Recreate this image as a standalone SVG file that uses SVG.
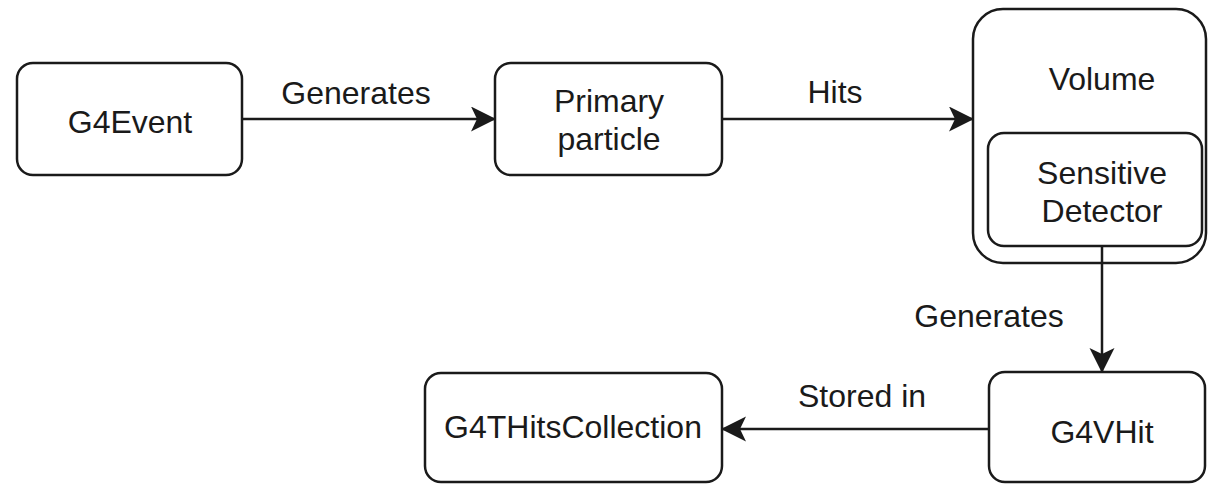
<svg xmlns="http://www.w3.org/2000/svg" width="1209" height="485" viewBox="0 0 1209 485">
  <style>
    .box { fill: #ffffff; stroke: #1a1a1a; stroke-width: 2.5; }
    .lbl { font-family: "Liberation Sans", Arial, Helvetica, sans-serif; font-size: 32px; fill: #1a1a1a; text-anchor: middle; }
    .edge { stroke: #1a1a1a; stroke-width: 2.5; fill: none; marker-end: url(#arrow); }
  </style>
  <defs>
    <marker id="arrow" markerUnits="userSpaceOnUse" markerWidth="26" markerHeight="26" refX="24" refY="12.5" orient="auto">
      <path d="M0,0 L25,12.5 L0,25 L6,12.5 Z" fill="#1a1a1a"/>
    </marker>
  </defs>
  <rect width="1209" height="485" fill="#ffffff"/>

  <g id="g4event">
    <rect class="box" x="17" y="63" width="225" height="112" rx="16"/>
    <text class="lbl" x="130" y="133">G4Event</text>
  </g>

  <g id="primary-particle">
    <rect class="box" x="495" y="63" width="227" height="112" rx="16"/>
    <text class="lbl" x="609" y="112">Primary</text>
    <text class="lbl" x="609" y="150">particle</text>
  </g>

  <g id="volume">
    <rect class="box" x="973" y="9" width="233" height="254" rx="30"/>
    <text class="lbl" x="1102" y="90">Volume</text>
  </g>

  <g id="sensitive-detector">
    <rect class="box" x="988" y="133" width="214" height="113" rx="16"/>
    <text class="lbl" x="1102" y="184">Sensitive</text>
    <text class="lbl" x="1102" y="222">Detector</text>
  </g>

  <g id="g4vhit">
    <rect class="box" x="989" y="372" width="216" height="110" rx="16"/>
    <text class="lbl" x="1102" y="443">G4VHit</text>
  </g>

  <g id="g4thitscollection">
    <rect class="box" x="425" y="373" width="297" height="109" rx="16"/>
    <text class="lbl" x="573" y="438">G4THitsCollection</text>
  </g>

  <g id="connectors">
    <line class="edge" x1="242" y1="119" x2="495" y2="119"/>
    <text class="lbl" x="356" y="104">Generates</text>
    <line class="edge" x1="722" y1="119" x2="973" y2="119"/>
    <text class="lbl" x="835" y="103">Hits</text>
    <line class="edge" x1="1102" y1="246" x2="1102" y2="372"/>
    <text class="lbl" x="989" y="327">Generates</text>
    <line class="edge" x1="989" y1="429" x2="722" y2="429"/>
    <text class="lbl" x="862" y="407">Stored in</text>
  </g>
</svg>
